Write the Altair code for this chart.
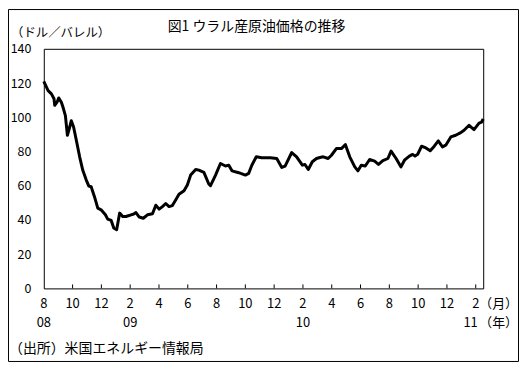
import altair as alt
import pandas as pd

# months since Aug 2008 (x position) and Urals crude price (USD/barrel)
months = [0.0, 0.30, 0.53, 0.71, 0.76, 0.92, 1.04, 1.22, 1.33, 1.50, 1.64, 1.80, 1.91, 2.07,
          2.26, 2.49, 2.71, 2.95, 3.13, 3.29, 3.52, 3.75, 3.98, 4.28, 4.44, 4.68, 4.86, 5.06,
          5.27, 5.48, 5.71, 6.06, 6.25, 6.40, 6.63, 6.91, 7.20, 7.55, 7.78, 8.01, 8.24, 8.47,
          8.70, 8.93, 9.16, 9.39, 9.74, 9.97, 10.20, 10.55, 10.77, 11.12, 11.46, 11.58, 11.93,
          12.27, 12.62, 12.85, 13.07, 13.54, 14.00, 14.23, 14.45, 14.76, 15.14, 15.73, 16.18,
          16.53, 16.76, 17.22, 17.56, 17.96, 18.14, 18.37, 18.65, 18.94, 19.18, 19.41, 19.75,
          19.98, 20.32, 20.67, 20.95, 21.25, 21.60, 21.82, 22.05, 22.33, 22.63, 22.98, 23.25,
          23.55, 23.90, 24.12, 24.47, 24.81, 25.05, 25.39, 25.62, 25.78, 25.97, 26.24, 26.54,
          26.84, 27.12, 27.40, 27.69, 27.92, 28.27, 28.61, 28.96, 29.19, 29.54, 29.88, 30.23,
          30.41, 30.52]
prices = [121, 115.6, 113.7, 110.8, 107, 108.8, 111.3, 108.8, 106, 101, 89.5, 94.3, 98, 94.3,
          86.6, 76.9, 69, 63.3, 59.8, 59.4, 53.6, 46.9, 45.9, 43, 40.5, 39.7, 35.3, 34.3,
          44, 42, 42, 43, 43.5, 44.3, 41.7, 41, 43, 43.6, 48.6, 46.3, 47.8, 49.6,
          47.8, 48.4, 51.7, 55, 57.1, 60.4, 66.2, 69.5, 69.1, 67.8, 61, 60, 66.2,
          73, 71.5, 72, 68.7, 67.6, 66.2, 67.2, 72, 76.9, 76.3, 76.3, 75.9,
          70.7, 71.5, 79.4, 76.9, 72, 72.4, 69.5, 74, 75.9, 76.5, 76.9, 75.9,
          77.8, 81.7, 81.7, 84, 76.9, 71, 68.7, 72, 71.5, 75.3, 74.4, 72.4,
          74.6, 75.9, 80.2, 75.9, 71, 74.9, 77.3, 78.3, 77.3, 78.4, 83.1, 82.1,
          80.4, 83.1, 86.2, 82.7, 83.7, 88.5, 89.5, 91, 92.4, 95.3, 92.8, 96.6,
          97.2, 99]

tick_pos = [0, 2, 4, 6, 8, 10, 12, 14, 16, 18, 20, 22, 24, 26, 28, 30]
month_labels = ['8', '10', '12', '2', '4', '6', '8', '10', '12', '2', '4', '6', '8', '10', '12', '2']
year_pos = [0, 6, 18]
year_labels = ['08', '09', '10']
last_year_pos = [30]
last_year_label = ['11']
y_ticks = [0, 20, 40, 60, 80, 100, 120, 140]

title_text = '図1 ウラル産原油価格の推移'
unit_text = '（ドル／バレル）'
source_text = '（出所）米国エネルギー情報局'
month_unit = '（月）'
year_unit = '（年）'

FONT = 'Noto Sans CJK JP'
W, H = 442, 241

df = pd.DataFrame({'m': months, 'v': prices})
ticks_df = pd.DataFrame({'m': tick_pos[1:]})
mlab_df = pd.DataFrame({'m': tick_pos, 'lab': month_labels})
ylab_df = pd.DataFrame({'m': year_pos, 'lab': year_labels})
ylast_df = pd.DataFrame({'m': last_year_pos, 'lab': last_year_label})
one = pd.DataFrame({'k': [0]})

xscale = alt.Scale(domain=[0, 30.52], nice=False, zero=False)

line = alt.Chart(df).mark_line(color='black', strokeWidth=3, strokeJoin='round').encode(
    x=alt.X('m:Q', scale=xscale, axis=None),
    y=alt.Y('v:Q', scale=alt.Scale(domain=[0, 140], nice=False),
            axis=alt.Axis(values=y_ticks, ticks=False, domain=False, grid=False,
                          labelPadding=13, labelFontSize=12.5, labelFont=FONT,
                          labelColor='black', title=None)),
)

tick_rules = alt.Chart(ticks_df).mark_rule(color='black', strokeWidth=1).encode(
    x='m:Q', y=alt.value(H), y2=alt.value(H - 4)
)

mtext = alt.Chart(mlab_df).mark_text(font=FONT, fontSize=13, color='black',
                                     baseline='middle', align='center').encode(
    x='m:Q', y=alt.value(257), text='lab:N'
)
ytext = alt.Chart(ylab_df).mark_text(font=FONT, fontSize=13, color='black',
                                     baseline='middle', align='center').encode(
    x='m:Q', y=alt.value(276), text='lab:N'
)
ytext_last = alt.Chart(ylast_df).mark_text(font=FONT, fontSize=13, color='black',
                                           baseline='middle', align='right', dx=2).encode(
    x='m:Q', y=alt.value(276), text='lab:N'
)


def note(txt, x, y, size=13, align='left'):
    return alt.Chart(one).mark_text(text=txt, font=FONT, fontSize=size, color='black',
                                    align=align, baseline='middle').encode(
        x=alt.value(x), y=alt.value(y))


title = note(title_text, 214, -22, size=14, align='center')
unit = note(unit_text, -33, -16, size=12.5)
source = note(source_text, -35, 302, size=14)
mu = note(month_unit, 438, 257)
yu = note(year_unit, 438, 276)

frame = alt.Chart(one).mark_rect(fillOpacity=0, stroke='black', strokeWidth=1).encode(
    x=alt.value(-35.5), x2=alt.value(477.5), y=alt.value(-39.5), y2=alt.value(314.5)
)

chart = alt.layer(frame, line, tick_rules, mtext, ytext, ytext_last, title, unit, source,
                  mu, yu).properties(
    width=W, height=H,
    autosize=alt.AutoSizeParams(type='none'),
    padding={'left': 36, 'top': 40, 'right': 36, 'bottom': 75},
    background='white',
).configure_view(stroke='black', strokeWidth=1)

chart.save('out.html', embed_options={'renderer': 'svg', 'actions': False})
